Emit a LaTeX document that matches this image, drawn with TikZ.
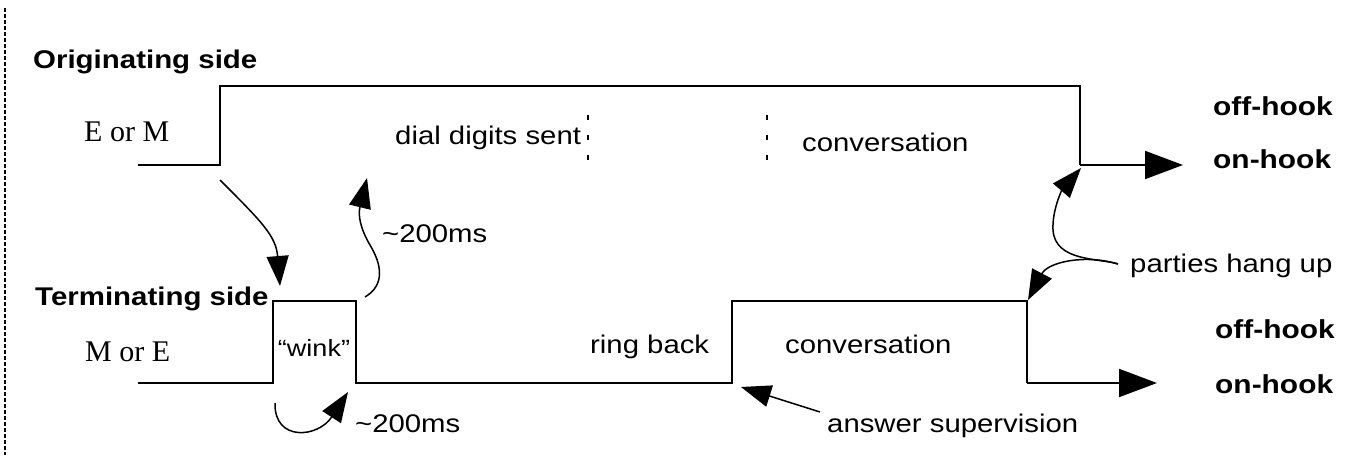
\documentclass[tikz,border=0pt]{standalone}
\usepackage{fontspec}
\usetikzlibrary{arrows.meta}
\newfontfamily\lblfont[FakeStretch=1.15]{Liberation Sans}
\newfontfamily\serfont{Liberation Serif}
\begin{document}
\begin{tikzpicture}[x=1pt,y=-1pt,
  wave/.style={line width=2pt, line join=miter},
  lbl/.style={inner sep=0pt, anchor=base west, font=\lblfont\fontsize{25.5}{28}\selectfont},
  ttl/.style={inner sep=0pt, anchor=base west, font=\lblfont\bfseries\fontsize{25.6}{28}\selectfont},
  hook/.style={inner sep=0pt, anchor=base west, font=\lblfont\bfseries\fontsize{26}{28}\selectfont},
  sig/.style={inner sep=0pt, anchor=base west, font=\serfont\fontsize{30}{32}\selectfont},
  curvy/.style={line width=1.5pt, -{Triangle[length=30pt,width=22pt]}},
  levelarrow/.style={line width=2pt, -{Triangle[length=38pt,width=28pt]}},
  marker/.style={line width=2pt, dash pattern=on 5pt off 15pt},
  border/.style={line width=2pt, dash pattern=on 4pt off 2pt},
]
\useasboundingbox (0,0) rectangle (1351,455);
\fill[white] (0,0) rectangle (1351,455);

% left frame edge
\draw[border] (5,8) -- (5,455);

% originating side levels
\coordinate (o0) at (138,165);
\coordinate (o1) at (220,165);
\coordinate (o2) at (220,86);
\coordinate (o3) at (1080,86);
\coordinate (o4) at (1080,165);
\coordinate (o5) at (1183,165);
\draw[wave] (o0) -- (o1) -- (o2) -- (o3) -- (o4);
\draw[levelarrow] (o4) -- (o5);

% terminating side levels
\coordinate (t0) at (138,383);
\coordinate (t1) at (273,383);
\coordinate (t2) at (273,301);
\coordinate (t3) at (356,301);
\coordinate (t4) at (356,383);
\coordinate (t5) at (732,383);
\coordinate (t6) at (732,301);
\coordinate (t7) at (1027,301);
\coordinate (t8) at (1027,383);
\coordinate (t9) at (1157,383);
\draw[wave] (t0) -- (t1) -- (t2) -- (t3) -- (t4) -- (t5) -- (t6) -- (t7) -- (t8);
\draw[levelarrow] (t8) -- (t9);

% phase separators
\draw[marker] (588,115) -- (588,160);
\draw[marker] (767,115) -- (767,160);

% labels
\node[ttl] (orig) at (33,68) {Originating side};
\node[sig] (em) at (84,141.5) {E or M};
\node[lbl] (dial) at (395,144) {dial digits sent};
\node[lbl] (conv1) at (802,151) {conversation};
\node[hook] (off1) at (1213,115) {off-hook};
\node[hook] (on1) at (1213,168) {on-hook};
\node[lbl] (d1) at (382,242) {\textasciitilde200ms};
\node[ttl] (term) at (35,305) {Terminating side};
\node[sig] (me) at (85,361.7) {M or E};
\node[lbl, anchor=base, font=\lblfont\fontsize{23.5}{26}\selectfont] (wink) at (314,356) {“wink”};
\node[lbl] (ring) at (590,353) {ring back};
\node[lbl] (conv2) at (785,353) {conversation};
\node[lbl] (hang) at (1130,272) {parties hang up};
\node[hook] (off2) at (1215,338) {off-hook};
\node[hook] (on2) at (1215,393) {on-hook};
\node[lbl] (d2) at (355,432) {\textasciitilde200ms};
\node[lbl] (ans) at (827,432) {answer supervision};

% annotation arrows
\coordinate (seize) at (220,180);
\coordinate (winkup) at (280,286);
\coordinate (winkend) at (365,297);
\coordinate (dialgo) at (367,178);
\coordinate (winkstart) at (275,403);
\coordinate (winkstop) at (348,392);
\coordinate (hangtail) at (1118,264);
\coordinate (origdown) at (1081,168);
\coordinate (termdown) at (1028,300);
\coordinate (anstail) at (820,412);
\coordinate (ansup) at (741,387);

\draw[curvy] (seize) .. controls (262,222) and (276,236) .. (winkup);
\draw[curvy] (winkend) .. controls (385,285) and (382,265) .. (370,245)
  .. controls (360,228) and (358,215) .. (dialgo);
\draw[curvy] (winkstart) .. controls (274,442) and (318,438) .. (winkstop);
\draw[curvy] (hangtail) .. controls (1100,258) and (1055,262) .. (1053,230)
  .. controls (1052,210) and (1062,190) .. (origdown);
\draw[curvy] (hangtail) .. controls (1085,254) and (1048,262) .. (termdown);
\draw[curvy] (anstail) -- (ansup);
\end{tikzpicture}
\end{document}
